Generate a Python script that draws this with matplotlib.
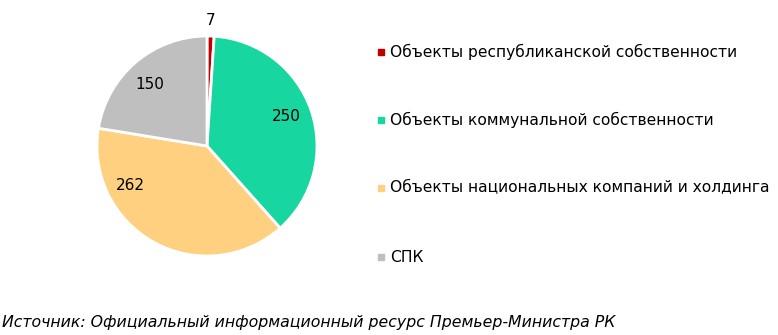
import matplotlib
matplotlib.use("Agg")
import matplotlib.pyplot as plt
from matplotlib.lines import Line2D

categories = ["Объекты республиканской собственности",
              "Объекты коммунальной собственности",
              "Объекты национальных компаний и холдинга",
              "СПК"]
values = [7, 250, 262, 150]
colors = ["#C00000", "#17D6A0", "#FFD07F", "#BFBFBF"]
source = "Источник: Официальный информационный ресурс Премьер-Министра РК"

W, H = 778, 335
fig = plt.figure(figsize=(W/100, H/100), dpi=100)
ax = fig.add_axes([(207-110)/W, (H-256)/H, 220/W, 220/H])
wedges, _ = ax.pie(values, colors=colors, startangle=90, counterclock=False,
                   wedgeprops=dict(edgecolor="white", linewidth=2))
ax.set_xlim(-1, 1)
ax.set_ylim(-1, 1)
ax.set_aspect("equal")

# label placement (data units of the unit pie)
label_pos = [(0.03, 1.145), (0.72, 0.27), (-0.70, -0.36), (-0.52, 0.56)]
for v, (x, y) in zip(values, label_pos):
    ax.text(x, y, str(v), ha="center", va="center", fontsize=11, color="#000000",
            clip_on=False)

ys = [52, 120, 188, 257]
for cat, col, y in zip(categories, colors, ys):
    fig.add_artist(Line2D([381/W], [1 - y/H], marker="s", markersize=4.5,
                          color=col, linestyle="none", transform=fig.transFigure))
    fig.text(390/W, 1 - y/H, cat, ha="left", va="center", fontsize=11.15)

fig.text(2/W, 1 - 322/H, source, ha="left", va="center", fontsize=11.3, style="italic")
fig.savefig("out.png", dpi=100)
